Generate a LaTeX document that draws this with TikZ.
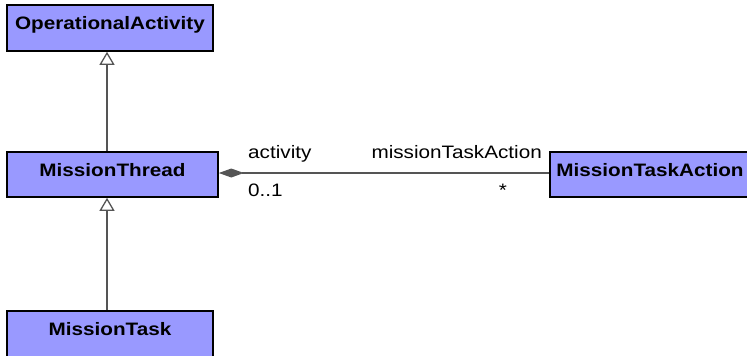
\documentclass[tikz,border=0pt]{standalone}
\usepackage{fontspec}
\setmainfont[FakeStretch=1.15]{Liberation Sans}
\usetikzlibrary{arrows.meta}
\definecolor{classfill}{RGB}{153,153,255}
\definecolor{linkgray}{RGB}{85,85,85}
\tikzset{
    classbox/.style={draw=black, line width=1.6pt, fill=classfill, font=\fontsize{18}{20}\selectfont\bfseries, inner sep=0pt, text height=13pt, text depth=10pt},
    generalize/.style={draw=linkgray, line width=1.5pt, -{Triangle[open, length=13pt, width=15pt, line width=1.3pt, fill=white]}},
    compose/.style={draw=linkgray, line width=1.5pt, {Diamond[length=25pt, width=9pt]}-},
    rolelabel/.style={font=\fontsize{18}{20}\selectfont, inner sep=0pt}
}
\begin{document}
\begin{tikzpicture}[x=1pt, y=-1pt]
    \clip (0,0) rectangle (747,356);
    \useasboundingbox (0,0) rectangle (747,356);

    % Classes
    \node[classbox, minimum width=206pt, minimum height=46pt] (opAct) at (110,28) {OperationalActivity};
    \node[classbox, minimum width=211pt, minimum height=45pt] (mThread) at (112.5,174.5) {MissionThread};
    \node[classbox, minimum width=206pt, minimum height=46pt] (mTask) at (110,334) {MissionTask};
    \node[classbox, minimum width=200pt, minimum height=45pt] (mTaskAct) at (650,174.5) {MissionTaskAction};

    % Generalizations
    \draw[generalize] (mThread.north -| 107,0) -- (opAct.south -| 107,0);
    \draw[generalize] (mTask.north -| 107,0) -- (mThread.south -| 107,0);

    % Composition
    \draw[compose] (mThread.east |- 0,173) -- (mTaskAct.west |- 0,173);

    % Role names and multiplicities
    \node[rolelabel, anchor=base west] (roleAct) at (248,158) {activity};
    \node[rolelabel, anchor=base west] (multAct) at (248,196) {0..1};
    \node[rolelabel, anchor=base east] (roleMta) at (542,158) {missionTaskAction};
    \node[rolelabel, anchor=base] (multMta) at (503,196) {*};
\end{tikzpicture}
\end{document}
